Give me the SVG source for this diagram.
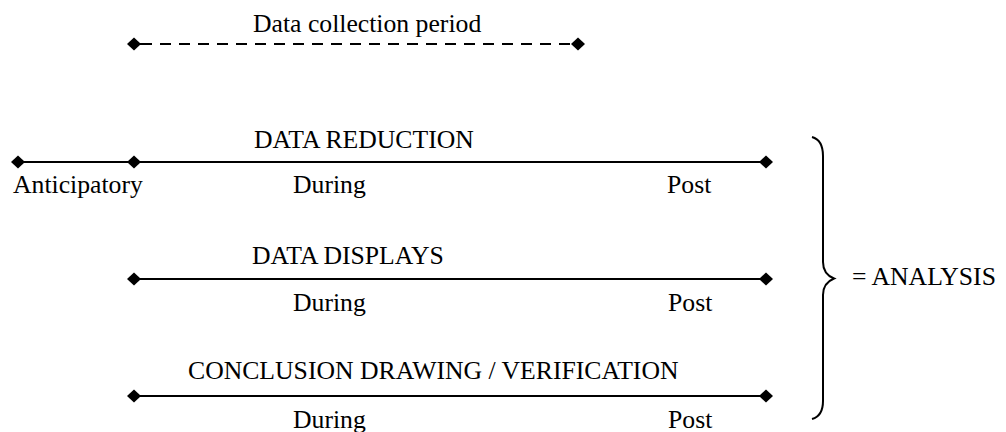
<svg xmlns="http://www.w3.org/2000/svg" width="1006" height="432" viewBox="0 0 1006 432">
  <style>
    text { font-family: "Liberation Serif", "Times New Roman", serif; font-size: 25.7px; fill: #000; }
    .line { stroke: #000; stroke-width: 2; fill: none; }
    .dashed { stroke-dasharray: 11 8; stroke-width: 2.2; }
    .brace { stroke: #000; stroke-width: 2; fill: none; }
  </style>
  <defs>
    <path id="dm" d="M0,-6.5 L7,0 L0,6.5 L-7,0 Z" fill="#000"/>
  </defs>
  <rect width="1006" height="432" fill="#fff"/>

  <!-- timelines -->
  <g id="connectors">
    <line class="line" x1="134" y1="44" x2="141" y2="44"/>
    <line class="line dashed" x1="141" y1="44" x2="572" y2="44"/>
    <line class="line" x1="18" y1="162" x2="766" y2="162"/>
    <line class="line" x1="134" y1="279" x2="766" y2="279"/>
    <line class="line" x1="134" y1="396" x2="766" y2="396"/>
    <use href="#dm" x="134" y="44"/>
    <use href="#dm" x="578" y="44"/>
    <use href="#dm" x="18" y="162"/>
    <use href="#dm" x="134" y="162"/>
    <use href="#dm" x="766" y="162"/>
    <use href="#dm" x="134" y="279"/>
    <use href="#dm" x="766" y="279"/>
    <use href="#dm" x="134" y="396"/>
    <use href="#dm" x="766" y="396"/>
  </g>

  <g id="collection-period">
    <text x="253" y="32">Data collection period</text>
  </g>

  <g id="data-reduction">
    <text x="254" y="148">DATA REDUCTION</text>
    <text x="13" y="193">Anticipatory</text>
    <text x="293" y="193">During</text>
    <text x="667" y="193">Post</text>
  </g>

  <g id="data-displays">
    <text x="252" y="264">DATA DISPLAYS</text>
    <text x="293" y="311">During</text>
    <text x="668" y="311">Post</text>
  </g>

  <g id="conclusion-drawing">
    <text x="188" y="379">CONCLUSION DRAWING / VERIFICATION</text>
    <text x="293" y="428">During</text>
    <text x="668" y="428">Post</text>
  </g>

  <g id="analysis">
    <path class="brace" d="M812,137 Q823,140 823,156 L823,262 Q823,274 834,278.5 Q823,283 823,295 L823,401 Q823,416 812,419"/>
    <text x="852" y="285">= ANALYSIS</text>
  </g>
</svg>
